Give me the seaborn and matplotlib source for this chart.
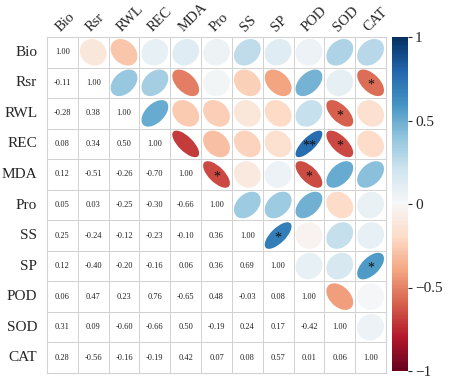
import numpy as np
import matplotlib
matplotlib.use("Agg")
import matplotlib.pyplot as plt
import seaborn as sns
from matplotlib.colors import ListedColormap, Normalize
from matplotlib.patches import Ellipse
from matplotlib.cm import ScalarMappable

# ============================
# DADOS
# ============================
variaveis = ['Bio', 'Rsr', 'RWL', 'REC', 'MDA', 'Pro', 'SS', 'SP', 'POD', 'SOD', 'CAT']

# triângulo inferior (linha i, colunas 0..i-1)
tri_inferior = [
    [],
    [-0.11],
    [-0.28, 0.38],
    [0.08, 0.34, 0.50],
    [0.12, -0.51, -0.26, -0.70],
    [0.05, 0.03, -0.25, -0.30, -0.66],
    [0.25, -0.24, -0.12, -0.23, -0.10, 0.36],
    [0.12, -0.40, -0.20, -0.16, 0.06, 0.36, 0.69],
    [0.06, 0.47, 0.23, 0.76, -0.65, 0.48, -0.03, 0.08],
    [0.31, 0.09, -0.60, -0.66, 0.50, -0.19, 0.24, 0.17, -0.42],
    [0.28, -0.56, -0.16, -0.19, 0.42, 0.07, 0.08, 0.57, 0.01, 0.06],
]

# significância (linha, coluna, marca) no triângulo superior
signif = [
    ('Rsr', 'CAT', '*'),
    ('RWL', 'SOD', '*'),
    ('REC', 'POD', '**'),
    ('REC', 'SOD', '*'),
    ('MDA', 'Pro', '*'),
    ('MDA', 'POD', '*'),
    ('SS', 'SP', '*'),
    ('SP', 'CAT', '*'),
]

n = len(variaveis)
corr = np.eye(n)
for i, linha in enumerate(tri_inferior):
    for j, v in enumerate(linha):
        corr[i, j] = v
        corr[j, i] = v

# ============================
# FIGURA
# ============================
sns.set_style("white")
plt.rcParams['font.family'] = ['Liberation Serif', 'DejaVu Serif']

fig = plt.figure(figsize=(4.5, 3.8), dpi=100)
ax = fig.add_axes([47/450, 7/380, 339/450, 336/380])
cax = fig.add_axes([392/450, 9/380, 16/450, 334/380])

sns.heatmap(np.zeros((n, n)), cmap=ListedColormap(['white']), cbar=False,
            linewidths=0.7, linecolor='#d2d2d2', ax=ax,
            xticklabels=variaveis, yticklabels=variaveis)

cmap = plt.get_cmap('RdBu')
norm = Normalize(-1, 1)
escala = 0.87

for i in range(n):
    for j in range(n):
        r = corr[i, j]
        if j <= i:
            ax.text(j + 0.5, i + 0.5, f"{r:.2f}", ha='center', va='center',
                    fontsize=6, color='#222222')
        else:
            e = Ellipse((j + 0.5, i + 0.5), width=escala * np.sqrt(1 + r),
                        height=escala * np.sqrt(1 - r), angle=-45,
                        facecolor=cmap(norm(r)), edgecolor='none', zorder=3)
            ax.add_patch(e)

for a, b, marca in signif:
    i, j = variaveis.index(a), variaveis.index(b)
    ax.text(j + 0.5, i + 0.58, marca, ha='center', va='center',
            fontsize=10, color='#111111', zorder=4)

# contorno
for s in ax.spines.values():
    s.set_visible(True)
    s.set_color('#d2d2d2')
    s.set_linewidth(0.8)

ax.xaxis.tick_top()
ax.tick_params(axis='y', length=0, labelsize=11, pad=7)
ax.tick_params(axis='x', length=0, labelsize=10.5, pad=2)
plt.setp(ax.get_xticklabels(), rotation=45, ha='left', va='bottom',
         rotation_mode='anchor')
plt.setp(ax.get_yticklabels(), rotation=0)

cb = fig.colorbar(ScalarMappable(norm=norm, cmap=cmap), cax=cax,
                  ticks=[-1, -0.5, 0, 0.5, 1])
cb.ax.set_yticklabels(['\u22121', '\u22120.5', '0', '0.5', '1'])
cb.outline.set_visible(False)
cb.ax.tick_params(length=3, width=0.8, labelsize=11, pad=2)

fig.savefig("out.png", dpi=100)
